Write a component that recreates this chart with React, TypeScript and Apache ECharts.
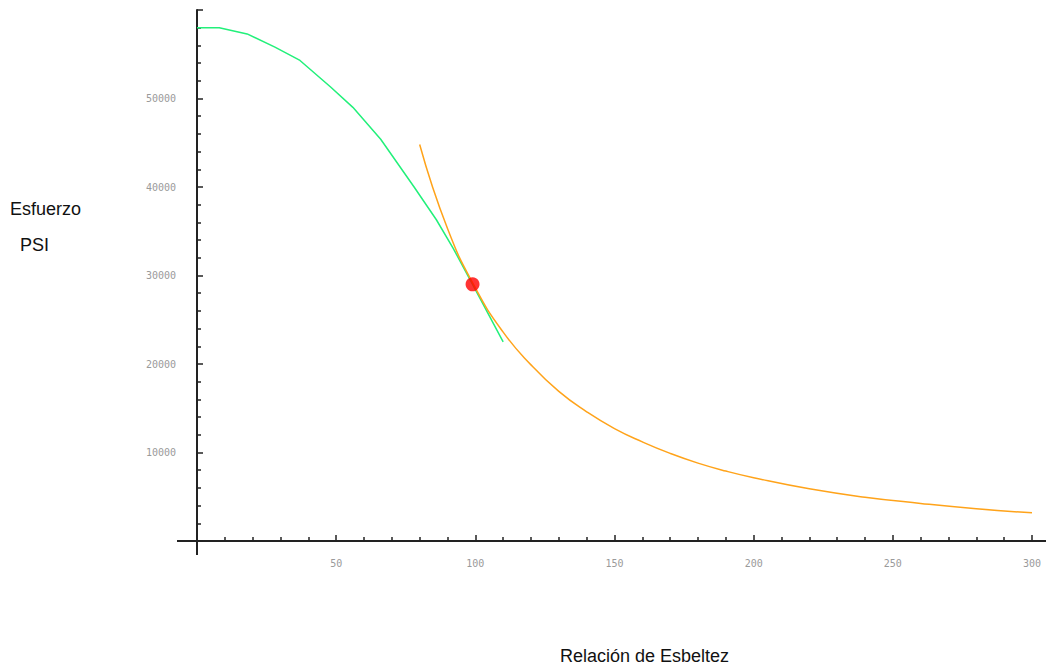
import React, { useEffect, useRef } from "react";
import * as echarts from "echarts";

const greenX = [0, 8, 18, 28, 37, 48, 56, 66, 78, 86, 92, 99, 110];
const greenY = [58000, 58000, 57300, 55800, 54300, 51300, 49000, 45400, 40000, 36300, 33100, 29000, 22500];

const orangeX = [80, 90, 100, 110, 120, 130, 140, 150, 160, 170, 180, 190, 200, 220, 240, 260, 280, 300];
const orangeY = [44800, 35300, 28600, 23600, 19900, 16900, 14600, 12700, 11200, 9900, 8800, 7900, 7150, 5900, 4950, 4250, 3650, 3180];

const pointX = [99];
const pointY = [29000];

const xTitle = "Relación de Esbeltez";
const yTitle1 = "Esfuerzo";
const yTitle2 = "PSI";

export default function App() {
  const ref = useRef<HTMLDivElement>(null);
  useEffect(() => {
    if (!ref.current) return;
    const chart = echarts.init(ref.current, undefined, { renderer: "svg" });
    const axisColor = "#222";
    const labelStyle = {
      color: "#9a9a9a",
      fontSize: 10,
      fontFamily: "DejaVu Sans Mono",
    };
    chart.setOption({
      animation: false,
      backgroundColor: "#ffffff",
      grid: { left: 197, right: 14, top: 10, bottom: 128, containLabel: false },
      xAxis: {
        type: "value",
        min: 0,
        max: 300,
        interval: 50,
        axisLine: { show: true, onZero: true, lineStyle: { color: axisColor, width: 2 } },
        axisTick: { show: true, inside: true, length: 6, lineStyle: { color: axisColor, width: 1.5 } },
        minorTick: { show: true, splitNumber: 5, length: 4, lineStyle: { color: axisColor, width: 1.5 } },
        splitLine: { show: false },
        axisLabel: {
          ...labelStyle,
          margin: 17,
          formatter: (v: number) => (v === 0 ? "" : String(v)),
        },
      },
      yAxis: {
        type: "value",
        min: 0,
        max: 60000,
        interval: 10000,
        axisLine: { show: true, lineStyle: { color: axisColor, width: 2 } },
        axisTick: { show: true, inside: true, length: 6, lineStyle: { color: axisColor, width: 1.5 } },
        minorTick: { show: true, splitNumber: 5, length: 4, lineStyle: { color: axisColor, width: 1.5 } },
        splitLine: { show: false },
        axisLabel: {
          ...labelStyle,
          margin: 21,
          formatter: (v: number) => (v === 0 || v === 60000 ? "" : String(v)),
        },
      },
      series: [
        {
          type: "line",
          data: greenX.map((x, i) => [x, greenY[i]]),
          showSymbol: false,
          smooth: false,
          lineStyle: { color: "#22f07a", width: 1.5 },
          z: 3,
        },
        {
          type: "line",
          data: orangeX.map((x, i) => [x, orangeY[i]]),
          showSymbol: false,
          smooth: true,
          lineStyle: { color: "#ffa31a", width: 1.5 },
          z: 4,
        },
        {
          type: "scatter",
          data: pointX.map((x, i) => [x, pointY[i]]),
          symbol: "circle",
          symbolSize: 14,
          itemStyle: { color: "#ff0000" },
          z: 5,
        },
      ],
    });

    const o = chart.convertToPixel({ gridIndex: 0 }, [0, 0]) as number[];
    const e = chart.convertToPixel({ gridIndex: 0 }, [300, 0]) as number[];
    const lineStyle = { stroke: axisColor, lineWidth: 2 };
    chart.setOption({
      graphic: [
        { type: "line", shape: { x1: o[0] - 20, y1: o[1], x2: o[0], y2: o[1] }, style: lineStyle },
        { type: "line", shape: { x1: e[0], y1: o[1], x2: 1046, y2: o[1] }, style: lineStyle },
        { type: "line", shape: { x1: o[0], y1: o[1], x2: o[0], y2: o[1] + 14 }, style: lineStyle },
        {
          type: "text",
          left: 10,
          top: 200,
          style: { text: yTitle1, fontSize: 18, fontFamily: "Liberation Sans", fill: "#111" },
        },
        {
          type: "text",
          left: 20,
          top: 236,
          style: { text: yTitle2, fontSize: 18, fontFamily: "Liberation Sans", fill: "#111" },
        },
        {
          type: "text",
          left: 560,
          top: 647,
          style: { text: xTitle, fontSize: 18, fontFamily: "Liberation Sans", fill: "#111" },
        },
      ],
    });

    return () => chart.dispose();
  }, []);
  return (
    <div
      ref={ref}
      style={{ position: "fixed", left: 0, top: 0, width: 1046, height: 669, background: "#fff" }}
    />
  );
}
